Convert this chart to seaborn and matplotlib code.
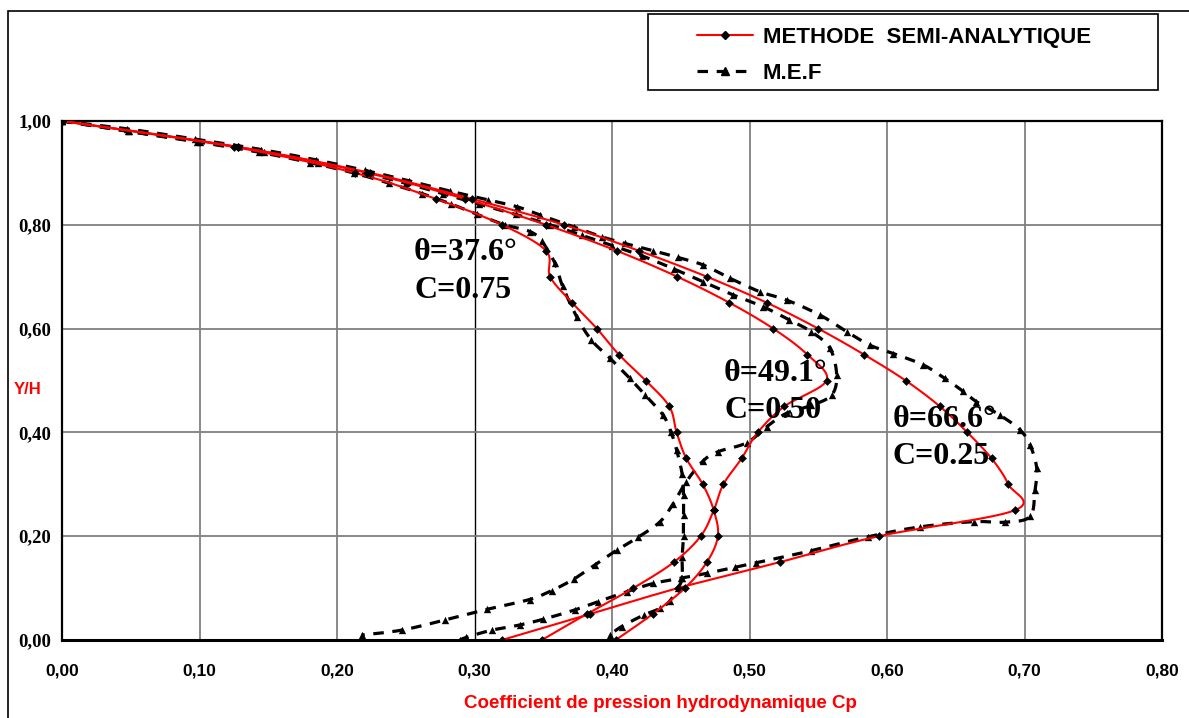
import numpy as np
import pandas as pd
import matplotlib
matplotlib.use("Agg")
import matplotlib.pyplot as plt
from matplotlib.lines import Line2D
from matplotlib.patches import Rectangle
from matplotlib.font_manager import FontProperties
import seaborn as sns

# ---------------- data ----------------
y_sa = [1.00, 0.95, 0.90, 0.85, 0.80, 0.75, 0.70, 0.65, 0.60, 0.55, 0.50,
        0.45, 0.40, 0.35, 0.30, 0.25, 0.20, 0.15, 0.10, 0.05, 0.00]
x_sa_c075 = [0.0, 0.125, 0.213, 0.272, 0.320, 0.352, 0.355, 0.371, 0.389, 0.405, 0.4245,
             0.4417, 0.447, 0.454, 0.466, 0.474, 0.477, 0.469, 0.453, 0.4296, 0.4027]
x_sa_c050 = [0.0, 0.128, 0.222, 0.293, 0.352, 0.4034, 0.4475, 0.4853, 0.5173, 0.542, 0.556,
             0.5253, 0.506, 0.4943, 0.481, 0.474, 0.4645, 0.445, 0.4155, 0.3816, 0.349]
x_sa_c025 = [0.0, 0.128, 0.224, 0.298, 0.365, 0.4196, 0.469, 0.5125, 0.55, 0.5833, 0.6135,
             0.6385, 0.6584, 0.676, 0.6882, 0.693, 0.594, 0.522, 0.448, 0.384, 0.320]

y_mef_c075 = [1.00, 0.98, 0.96, 0.94, 0.92, 0.90, 0.88, 0.86, 0.84, 0.82, 0.80, 0.787, 0.768,
              0.726, 0.682, 0.623, 0.578, 0.543, 0.504, 0.472, 0.434, 0.40, 0.366, 0.32, 0.28,
              0.24, 0.20, 0.16, 0.12, 0.10, 0.075, 0.061, 0.048, 0.026, 0.01]
x_mef_c075 = [0.0, 0.048, 0.098, 0.143, 0.180, 0.212, 0.238, 0.262, 0.283, 0.302, 0.322, 0.3404, 0.349,
              0.3585, 0.364, 0.3743, 0.385, 0.3985, 0.413, 0.424, 0.437, 0.443, 0.447, 0.451, 0.452,
              0.452, 0.452, 0.451, 0.451, 0.448, 0.442, 0.435, 0.423, 0.407, 0.3985]

y_mef_c050 = [1.00, 0.98, 0.96, 0.94, 0.92, 0.90, 0.88, 0.86, 0.84, 0.82, 0.80, 0.78, 0.76, 0.74,
              0.715, 0.69, 0.665, 0.642, 0.6166, 0.594, 0.562, 0.5106, 0.472, 0.452, 0.437, 0.411,
              0.380, 0.363, 0.3455, 0.305, 0.263, 0.228, 0.198, 0.173, 0.1445, 0.117, 0.095, 0.078,
              0.059, 0.0385, 0.019, 0.0096]
x_mef_c050 = [0.0, 0.049, 0.100, 0.147, 0.186, 0.220, 0.250, 0.277, 0.303, 0.330, 0.355, 0.378, 0.400, 0.422,
              0.445, 0.4664, 0.488, 0.510, 0.529, 0.545, 0.5585, 0.5634, 0.5598, 0.545, 0.527, 0.5125,
              0.498, 0.4773, 0.4664, 0.454, 0.4446, 0.435, 0.419, 0.4034, 0.3876, 0.372, 0.356, 0.340,
              0.309, 0.2785, 0.247, 0.218]

y_mef_c025 = [1.00, 0.985, 0.965, 0.945, 0.925, 0.905, 0.885, 0.865, 0.848, 0.835, 0.819, 0.796, 0.777,
              0.764, 0.75, 0.737, 0.7225, 0.697, 0.671, 0.655, 0.626, 0.594, 0.568, 0.552, 0.53, 0.504,
              0.479, 0.4593, 0.4335, 0.405, 0.376, 0.331, 0.289, 0.238, 0.227, 0.228, 0.218, 0.199,
              0.172, 0.149, 0.14, 0.1285, 0.119, 0.109, 0.093, 0.074, 0.058, 0.040, 0.029, 0.019,
              0.005, 0.0]
x_mef_c025 = [0.0, 0.047, 0.097, 0.145, 0.185, 0.220, 0.252, 0.282, 0.310, 0.3307, 0.3476, 0.372, 0.3925,
              0.4095, 0.430, 0.448, 0.4664, 0.4858, 0.5076, 0.527, 0.5513, 0.5707, 0.5876, 0.6046, 0.6264,
              0.642, 0.6555, 0.665, 0.682, 0.6967, 0.704, 0.7089, 0.7076, 0.704, 0.6858, 0.663, 0.624,
              0.5864, 0.545, 0.505, 0.4895, 0.469, 0.450, 0.430, 0.4107, 0.390, 0.373, 0.350, 0.333,
              0.3125, 0.294, 0.2895]

x_ticks = [0.0, 0.1, 0.2, 0.3, 0.4, 0.5, 0.6, 0.7, 0.8]
x_tick_labels = ["0,00", "0,10", "0,20", "0,30", "0,40", "0,50", "0,60", "0,70", "0,80"]
y_ticks = [0.0, 0.2, 0.4, 0.6, 0.8, 1.0]
y_tick_labels = ["0,00", "0,20", "0,40", "0,60", "0,80", "1,00"]

annotations = [("θ=37.6°", "C=0.75", 0.256, 0.746, 0.674),
               ("θ=49.1°", "C=0.50", 0.4815, 0.514, 0.443),
               ("θ=66.6°", "C=0.25", 0.604, 0.424, 0.353)]

legend_labels = ["METHODE  SEMI-ANALYTIQUE", "M.E.F"]
x_label = "Coefficient de pression hydrodynamique Cp"
y_label = "Y/H"


def smooth(xs, ys, n=14):
    """Catmull-Rom spline through the given points (Excel-like smoothed line)."""
    P = np.column_stack([xs, ys]).astype(float)
    P = np.vstack([P[0], P, P[-1]])
    out = []
    t = np.linspace(0, 1, n, endpoint=False)[:, None]
    for i in range(1, len(P) - 2):
        p0, p1, p2, p3 = P[i - 1], P[i], P[i + 1], P[i + 2]
        seg = 0.5 * ((2 * p1) + (-p0 + p2) * t + (2 * p0 - 5 * p1 + 4 * p2 - p3) * t ** 2
                     + (-p0 + 3 * p1 - 3 * p2 + p3) * t ** 3)
        out.append(seg)
    out.append(P[-2][None])
    return np.vstack(out)


sa_sets = {"C=0.75": (x_sa_c075, y_sa), "C=0.50": (x_sa_c050, y_sa), "C=0.25": (x_sa_c025, y_sa)}
mef_sets = {"C=0.75": (x_mef_c075, y_mef_c075), "C=0.50": (x_mef_c050, y_mef_c050),
            "C=0.25": (x_mef_c025, y_mef_c025)}

def smooth_frame(sets):
    rows = []
    for name, (xs, ys) in sets.items():
        s = smooth(xs, ys)
        rows.append(pd.DataFrame({"x": s[:, 0], "y": s[:, 1], "curve": name}))
    return pd.concat(rows, ignore_index=True)

def raw_frame(sets):
    return pd.concat([pd.DataFrame({"x": xs, "y": ys, "curve": name})
                      for name, (xs, ys) in sets.items()], ignore_index=True)

sa_smooth = smooth_frame(sa_sets)
mef_smooth = smooth_frame(mef_sets)
sa_raw = raw_frame(sa_sets)
mef_raw = raw_frame(mef_sets)

# ---------------- figure ----------------
sns.set_style("white")
plt.rcParams["font.family"] = ["Liberation Sans", "DejaVu Sans"]
plt.rcParams["text.color"] = "black"
plt.rcParams["xtick.color"] = "black"
plt.rcParams["ytick.color"] = "black"

W, H = 1189, 718
fig = plt.figure(figsize=(W / 100, H / 100), dpi=100)
ax = fig.add_axes([62 / W, (H - 640) / H, 1100 / W, 519 / H])

# grid
for xv in x_ticks:
    is_dark = abs(xv - 0.3) < 1e-9
    ax.axvline(xv, color="#000000" if is_dark else "#808080",
               lw=1.0 if is_dark else 1.3, zorder=0)
for yv in y_ticks:
    ax.axhline(yv, color="#808080", lw=1.3, zorder=0)

dash = (0, (3.3, 2.7))
sns.lineplot(data=mef_smooth, x="x", y="y", units="curve", estimator=None, sort=False,
             color="black", lw=2.3, linestyle=dash, ax=ax, zorder=3)
sns.scatterplot(data=mef_raw, x="x", y="y", marker="^", color="black", s=28,
                edgecolor="black", linewidth=0, ax=ax, zorder=4)
sns.lineplot(data=sa_smooth, x="x", y="y", units="curve", estimator=None, sort=False,
             color="#ff0000", lw=1.5, ax=ax, zorder=5)
sns.scatterplot(data=sa_raw, x="x", y="y", marker="D", color="black", s=20,
                edgecolor="black", linewidth=0, ax=ax, zorder=6)

ax.set_xlim(0, 0.8)
ax.set_ylim(0, 1.0)
ax.set_xticks(x_ticks)
ax.set_xticklabels(x_tick_labels, fontsize=12.5, fontweight="bold", family="Liberation Sans",
                   color="black")
ax.set_yticks(y_ticks)
ax.set_yticklabels(y_tick_labels, fontsize=13.5, fontweight="bold", family="Liberation Serif",
                   color="black")
ax.tick_params(axis="x", direction="out", length=5, width=1, pad=12, colors="black")
ax.tick_params(axis="y", direction="out", length=5, width=1, pad=3, colors="black")
ax.set_xlabel("")
ax.set_ylabel("")
for side, sp in ax.spines.items():
    sp.set_visible(True)
    sp.set_color("black")
    sp.set_linewidth(1.6)
ax.spines["bottom"].set_linewidth(2.2)

for t1, t2, xa, ya1, ya2 in annotations:
    ax.text(xa, ya1, t1, fontsize=23, fontweight="bold", family="Liberation Serif",
            va="center", ha="left", color="black", zorder=7)
    ax.text(xa, ya2, t2, fontsize=23, fontweight="bold", family="Liberation Serif",
            va="center", ha="left", color="black", zorder=7)

fig.text(660 / W, 1 - 704 / H, x_label, color="#ff0000", fontsize=13.5, fontweight="bold",
         ha="center", va="center")
fig.text(28 / W, 1 - 390 / H, y_label, color="#ff0000", fontsize=12, fontweight="bold",
         ha="center", va="center")

# outer chart frame
fig.add_artist(Rectangle((8 / W, -0.05), 1.2, (H - 11) / H + 0.05, transform=fig.transFigure,
                         fill=False, edgecolor="black", lw=1.2, clip_on=False))
# legend box
fig.add_artist(Rectangle((648 / W, 1 - 90 / H), 510 / W, 76 / H, transform=fig.transFigure,
                         fill=False, edgecolor="black", lw=1.2))
handles = [Line2D([], [], color="#ff0000", lw=1.5, marker="D", mfc="black", mec="black", ms=4.5),
           Line2D([], [], color="black", lw=2.3, linestyle=dash, marker="^", mfc="black",
                  mec="black", ms=5.5)]
leg_font = FontProperties(family="Liberation Sans", weight="bold", size=16)
leg = fig.legend(handles, legend_labels, loc="upper left", bbox_to_anchor=(697 / W, 1 - 27 / H),
                 frameon=False, borderpad=0, borderaxespad=0, handlelength=2.5, handletextpad=0.45,
                 labelspacing=0.66, numpoints=1, prop=leg_font)
for txt in leg.get_texts():
    txt.set_color("black")

fig.savefig("out.png", dpi=100)
